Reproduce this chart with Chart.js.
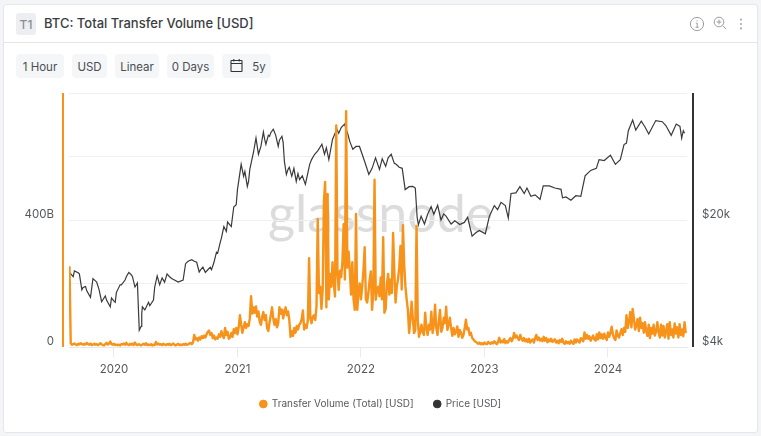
<!DOCTYPE html>
<html><head><meta charset="utf-8">
<script src="https://cdn.jsdelivr.net/npm/chart.js@4"></script>
<style>
html,body{margin:0;padding:0;width:761px;height:436px;overflow:hidden;background:#f4f5f7;font-family:Inter,"Open Sans",sans-serif}
#card{position:absolute;left:3px;top:4px;width:753px;height:427px;background:#fff;border:1px solid #e6e7ea;border-radius:3px}
#hdr{position:absolute;left:3px;top:42px;width:755px;height:1px;background:#e4e5e8}
#t1{position:absolute;left:16px;top:13px;width:20px;height:22px;background:#edeef1;border-radius:3px;color:#8a8f96;font-size:12px;font-weight:500;line-height:23px;text-align:center}
#title{position:absolute;left:44px;top:13px;font-size:13px;font-weight:500;color:#3a3d42;line-height:20px;white-space:nowrap}
.btn{position:absolute;top:54px;height:24px;background:#f5f6f8;border-radius:4px;font-size:11.5px;color:#4a4d52;line-height:26px;text-align:center}
#wm{position:absolute;left:268px;top:182px;font-family:Lato,sans-serif;font-size:52px;font-weight:400;color:#dcdcdc;line-height:60px;white-space:nowrap}
canvas{position:absolute;left:0;top:0}
svg{position:absolute}
</style></head>
<body>
<div id="card"></div><div id="hdr"></div>
<div id="t1">T1</div><div id="title">BTC: Total Transfer Volume [USD]</div>
<div class="btn" style="left:16px;width:48px">1 Hour</div>
<div class="btn" style="left:72px;width:35px">USD</div>
<div class="btn" style="left:115px;width:44px">Linear</div>
<div class="btn" style="left:167px;width:47px">0 Days</div>
<div class="btn" style="left:222px;width:49px;text-indent:19px"><span style="position:relative;left:3px">5y</span></div>
<svg style="left:229px;top:58px" width="16" height="16" viewBox="0 0 16 16" fill="none" stroke="#2f3237" stroke-width="1.1"><rect x="2" y="2.5" width="11" height="11" rx="0.5"/><path d="M2 5.5H13M4.8 1V3.6M10.2 1V3.6"/></svg>
<svg style="left:689px;top:16px" width="16" height="16" viewBox="0 0 16 16" fill="none" stroke="#9a9da2" stroke-width="1"><circle cx="8" cy="8" r="6.6"/><path d="M8 4.3V5.3M6.8 7.2H8.2V11.3M6.6 11.3H9.6"/></svg>
<svg style="left:713px;top:15px" width="15" height="16" viewBox="0 0 15 16" fill="none" stroke="#9a9da2" stroke-width="1"><circle cx="6" cy="7" r="4.8"/><path d="M6 4.6V9.4M3.6 7H8.4M9.6 10.8L13.2 14"/></svg>
<svg style="left:739px;top:18px" width="4" height="12" viewBox="0 0 4 12" fill="#a8abaf"><circle cx="2" cy="1.6" r="1.1"/><circle cx="2" cy="6" r="1.1"/><circle cx="2" cy="10.4" r="1.1"/></svg>
<div id="wm">glassnode</div>
<canvas id="c" width="761" height="436"></canvas>
<script>
const seriesNames = ['Transfer Volume (Total) [USD]', 'Price [USD]'];
const volumeTicks = [0, 400];
const priceTicks = [4000, 20000];
const yearTicks = [20, 21, 22, 23, 24];

// years since 2000
const volumeYears = [
19.64,19.65,19.66,19.67,19.68,19.69,19.70,19.71,19.72,19.73,
19.74,19.75,19.76,19.77,19.78,19.79,19.80,19.81,19.82,19.83,
19.84,19.85,19.86,19.87,19.88,19.89,19.90,19.91,19.92,19.93,
19.94,19.95,19.96,19.97,19.98,19.99,20.00,20.01,20.02,20.03,
20.04,20.05,20.06,20.07,20.08,20.09,20.10,20.11,20.12,20.13,
20.14,20.15,20.16,20.17,20.18,20.19,20.20,20.21,20.22,20.23,
20.24,20.25,20.26,20.27,20.28,20.29,20.30,20.31,20.32,20.33,
20.34,20.35,20.36,20.37,20.38,20.39,20.40,20.41,20.42,20.43,
20.44,20.45,20.46,20.47,20.48,20.49,20.50,20.51,20.52,20.53,
20.54,20.55,20.56,20.57,20.58,20.59,20.60,20.61,20.62,20.63,
20.64,20.65,20.66,20.67,20.68,20.69,20.70,20.71,20.72,20.73,
20.74,20.75,20.76,20.77,20.78,20.79,20.80,20.81,20.82,20.83,
20.84,20.85,20.86,20.87,20.88,20.89,20.90,20.91,20.92,20.93,
20.94,20.95,20.96,20.97,20.98,20.99,21.00,21.01,21.02,21.03,
21.04,21.05,21.06,21.07,21.08,21.09,21.10,21.11,21.12,21.13,
21.14,21.15,21.16,21.17,21.18,21.19,21.20,21.21,21.22,21.23,
21.24,21.25,21.26,21.27,21.28,21.29,21.30,21.31,21.32,21.33,
21.34,21.35,21.36,21.37,21.38,21.39,21.40,21.41,21.42,21.43,
21.44,21.45,21.46,21.47,21.48,21.49,21.50,21.51,21.52,21.53,
21.54,21.55,21.56,21.57,21.58,21.59,21.60,21.61,21.62,21.63,
21.64,21.65,21.66,21.67,21.68,21.69,21.70,21.71,21.72,21.73,
21.74,21.75,21.76,21.77,21.78,21.79,21.80,21.81,21.82,21.83,
21.84,21.85,21.86,21.87,21.88,21.89,21.90,21.91,21.92,21.93,
21.94,21.95,21.96,21.97,21.98,21.99,22.00,22.01,22.02,22.03,
22.04,22.05,22.06,22.07,22.08,22.09,22.10,22.11,22.12,22.13,
22.14,22.15,22.16,22.17,22.18,22.19,22.20,22.21,22.22,22.23,
22.24,22.25,22.26,22.27,22.28,22.29,22.30,22.31,22.32,22.33,
22.34,22.35,22.36,22.37,22.38,22.39,22.40,22.41,22.42,22.43,
22.44,22.45,22.46,22.47,22.48,22.49,22.50,22.51,22.52,22.53,
22.54,22.55,22.56,22.57,22.58,22.59,22.60,22.61,22.62,22.63,
22.64,22.65,22.66,22.67,22.68,22.69,22.70,22.71,22.72,22.73,
22.74,22.75,22.76,22.77,22.78,22.79,22.80,22.81,22.82,22.83,
22.84,22.85,22.86,22.87,22.88,22.89,22.90,22.91,22.92,22.93,
22.94,22.95,22.96,22.97,22.98,22.99,23.00,23.01,23.02,23.03,
23.04,23.05,23.06,23.07,23.08,23.09,23.10,23.11,23.12,23.13,
23.14,23.15,23.16,23.17,23.18,23.19,23.20,23.21,23.22,23.23,
23.24,23.25,23.26,23.27,23.28,23.29,23.30,23.31,23.32,23.33,
23.34,23.35,23.36,23.37,23.38,23.39,23.40,23.41,23.42,23.43,
23.44,23.45,23.46,23.47,23.48,23.49,23.50,23.51,23.52,23.53,
23.54,23.55,23.56,23.57,23.58,23.59,23.60,23.61,23.62,23.63,
23.64,23.65,23.66,23.67,23.68,23.69,23.70,23.71,23.72,23.73,
23.74,23.75,23.76,23.77,23.78,23.79,23.80,23.81,23.82,23.83,
23.84,23.85,23.86,23.87,23.88,23.89,23.90,23.91,23.92,23.93,
23.94,23.95,23.96,23.97,23.98,23.99,24.00,24.01,24.02,24.03,
24.04,24.05,24.06,24.07,24.08,24.09,24.10,24.11,24.12,24.13,
24.14,24.15,24.16,24.17,24.18,24.19,24.20,24.21,24.22,24.23,
24.24,24.25,24.26,24.27,24.28,24.29,24.30,24.31,24.32,24.33,
24.34,24.35,24.36,24.37,24.38,24.39,24.40,24.41,24.42,24.43,
24.44,24.45,24.46,24.47,24.48,24.49,24.50,24.51,24.52,24.53,
24.54,24.55,24.56,24.57,24.58,24.59,24.60,24.61,24.62,24.63];

// billions of USD
const volumeValues = [
254,12,7,9,11,8,6,10,8,12,
9,7,10,8,13,9,7,11,6,8,
10,7,9,6,8,12,9,6,5,9,
13,8,11,17,9,7,10,6,8,6,
7,5,9,8,11,7,13,8,6,10,
7,11,6,14,8,6,9,7,5,8,
10,7,12,6,8,6,9,5,7,6,
16,8,11,7,9,6,10,8,6,9,
7,10,6,8,11,7,5,8,10,6,
8,6,9,7,10,7,8,11,13,9,
14,38,24,28,20,30,24,34,28,36,
30,40,48,52,38,44,28,36,24,30,
26,40,32,50,36,28,60,38,48,26,
30,44,32,56,44,60,40,62,100,70,
45,62,78,60,72,66,90,160,105,125,
108,128,96,112,80,70,95,110,85,100,
60,50,78,100,125,90,70,88,62,75,
125,105,118,90,112,125,100,112,84,32,
50,35,60,45,66,55,70,75,88,115,
55,70,60,85,280,90,75,95,100,85,
127,403,170,190,120,180,457,520,125,482,
150,230,190,267,200,159,698,230,180,240,
220,270,387,213,743,250,300,240,165,267,
150,117,419,117,170,200,150,190,240,314,
150,140,170,210,238,117,170,527,149,180,
190,160,219,150,346,108,120,197,230,165,
213,170,359,240,140,190,213,250,318,181,
384,260,190,150,117,44,86,143,90,44,
54,381,86,32,50,70,45,38,108,60,
38,70,55,111,44,70,133,60,38,79,
117,48,60,92,75,127,54,70,92,60,
35,60,40,48,65,32,54,45,29,38,
60,86,55,60,38,45,29,24,19,16,
13,10,14,9,12,8,14,10,9,16,
12,10,15,11,18,13,9,16,29,14,
20,15,25,12,18,14,22,28,18,26,
44,30,36,28,22,38,26,20,28,18,
24,16,26,14,20,24,14,28,38,22,
30,20,26,18,32,20,28,15,24,18,
26,16,20,24,14,20,12,22,16,26,
14,10,18,12,16,10,20,14,10,24,
14,24,18,14,28,24,18,46,26,38,
26,34,20,28,36,24,20,40,24,46,
28,40,26,42,30,22,46,32,44,64,
40,28,22,52,36,30,44,56,38,60,
48,100,60,80,110,62,120,90,55,68,
88,50,92,60,75,45,78,50,35,70,
28,60,42,70,36,50,78,45,30,70,
36,66,30,48,72,26,78,38,55,30,
74,42,62,30,72,38,55,34,78,44];

const priceYears = [
19.64,19.67,19.68,19.71,19.72,19.74,19.75,19.77,19.78,19.81,
19.83,19.85,19.86,19.88,19.90,19.93,19.94,19.97,19.98,20.00,
20.01,20.02,20.05,20.06,20.09,20.10,20.12,20.14,20.15,20.17,
20.19,20.20,20.205,20.22,20.225,20.23,20.25,20.28,20.29,20.32,
20.33,20.35,20.37,20.39,20.41,20.43,20.45,20.47,20.49,20.52,
20.56,20.58,20.60,20.63,20.65,20.67,20.69,20.70,20.72,20.74,
20.76,20.78,20.79,20.81,20.83,20.84,20.86,20.87,20.89,20.91,
20.92,20.95,20.97,20.99,21.00,21.03,21.05,21.06,21.08,21.09,
21.10,21.13,21.15,21.17,21.19,21.21,21.22,21.23,21.25,21.26,
21.27,21.29,21.31,21.33,21.34,21.36,21.37,21.38,21.396,21.41,
21.42,21.44,21.457,21.476,21.49,21.503,21.525,21.55,21.585,21.60,
21.625,21.65,21.684,21.705,21.72,21.74,21.77,21.805,21.82,21.84,
21.867,21.894,21.91,21.934,21.96,21.988,22.03,22.064,22.09,22.118,
22.15,22.172,22.2,22.22,22.245,22.27,22.285,22.31,22.334,22.358,
22.39,22.42,22.44,22.455,22.465,22.487,22.514,22.54,22.568,22.59,
22.621,22.648,22.67,22.689,22.73,22.76,22.80,22.837,22.864,22.90,
22.93,22.958,23.007,23.04,23.08,23.106,23.134,23.169,23.193,23.215,
23.255,23.287,23.322,23.344,23.376,23.41,23.45,23.476,23.525,23.57,
23.62,23.632,23.66,23.70,23.74,23.78,23.815,23.86,23.906,23.928,
23.97,24.02,24.06,24.10,24.13,24.15,24.165,24.20,24.225,24.27,
24.30,24.33,24.387,24.44,24.47,24.512,24.553,24.583,24.597,24.61,24.62];

// USD
const priceValues = [
10300,9750,10500,10250,10100,8250,8500,8600,8150,7500,
9500,9250,9100,8250,7100,7650,7250,6650,7450,7150,
7050,8000,8800,8800,9350,9750,10300,10000,9750,8550,
9000,6000,4950,5200,6100,6650,6400,7050,6750,7250,
8550,9850,8800,9600,9100,10100,9750,9500,9350,9100,
9350,11500,11850,12100,11850,11700,10350,10600,11000,10300,
10650,11000,10650,11700,13300,13150,15000,15900,18400,17300,
19500,18400,23600,24300,29400,40500,34800,37000,30600,32600,
38000,47200,56500,46000,50800,61000,55700,52200,58500,57800,
60500,63200,58500,50800,55000,57800,53500,42000,35600,38000,
39000,34800,38500,32600,36000,33400,35000,31400,40500,43000,
46000,48000,52200,46000,50000,43000,55700,63200,60000,64500,
67400,59300,54000,49000,50800,50800,42000,35600,38500,44000,
38000,43500,39500,44000,46000,41000,40500,39000,38500,29400,
30500,30600,30000,20700,18800,21000,19000,21500,23700,21500,
24100,20000,21600,21000,19000,19800,18900,19400,20700,16300,
17000,17500,16800,21000,24000,22800,25000,24000,20500,28000,
28200,30500,28000,30000,27000,27500,26000,30800,30800,30000,
29500,26500,26800,25700,27200,27000,35000,37500,38500,43000,
42500,45500,40500,43000,52000,53000,62000,71000,62500,70000,
65000,59500,70500,69500,66000,58500,67500,65500,56500,62000,60000];

const railPlugin = {
  id: 'rails',
  afterDraw(chart) {
    const { ctx, chartArea: a } = chart;
    ctx.save();
    ctx.lineWidth = 2;
    ctx.strokeStyle = '#f7931a';
    ctx.beginPath(); ctx.moveTo(63, a.top); ctx.lineTo(63, a.bottom); ctx.stroke();
    ctx.strokeStyle = '#333333';
    ctx.beginPath(); ctx.moveTo(693, a.top); ctx.lineTo(693, a.bottom); ctx.stroke();
    ctx.restore();
  }
};

new Chart(document.getElementById('c'), {
  type: 'line',
  plugins: [railPlugin],
  data: {
    datasets: [
      { label: seriesNames[0], yAxisID: 'yV', borderColor: '#f7931a', backgroundColor: '#f7931a', borderWidth: 2.4, borderJoinStyle: 'round', pointRadius: 0, tension: 0,
        data: volumeYears.map((x, i) => ({ x, y: volumeValues[i] })) },
      { label: seriesNames[1], yAxisID: 'yP', borderColor: '#3a3a3a', backgroundColor: '#333333', borderWidth: 1.2, pointRadius: 0, tension: 0,
        data: priceYears.map((x, i) => ({ x, y: priceValues[i] })) }
    ]
  },
  options: {
    responsive: false, animation: false,
    layout: { padding: { left: 0, right: 0, top: 93, bottom: 17 } },
    plugins: {
      tooltip: { enabled: false },
      legend: { position: 'bottom', align: 'center',
        labels: { usePointStyle: true, pointStyle: 'circle', boxWidth: 7, boxHeight: 5.5, padding: 20, color: '#55585d', font: { family: 'Inter', size: 10 },
          generateLabels: chart => Chart.defaults.plugins.legend.labels.generateLabels(chart).map(item => ({ ...item, lineWidth: 1 })) } }
    },
    scales: {
      x: { type: 'linear', min: 19.636, max: 24.64,
        afterBuildTicks: s => { s.ticks = yearTicks.map(value => ({ value })); },
        ticks: { color: '#55585d', font: { family: 'Inter', size: 11.5 }, padding: 6, maxRotation: 0, callback: v => String(2000 + v) },
        grid: { drawOnChartArea: false, drawTicks: true, tickLength: 10, color: '#e9eaec' },
        border: { color: '#e6e7e9', width: 1 },
        afterFit: s => { s.height = 32; } },
      yV: { type: 'linear', position: 'left', min: 0, max: 800,
        ticks: { stepSize: 200, color: '#55585d', font: { family: 'Inter', size: 11.5 }, padding: 15, labelOffset: -5,
          callback: v => volumeTicks.includes(v) ? (v === 0 ? '0' : v + 'B') : '' },
        grid: { color: '#eeeff1', drawTicks: false },
        border: { display: false },
        afterFit: s => { s.width = 69; } },
      yP: { type: 'logarithmic', position: 'right', min: 4000, max: 100000,
        afterBuildTicks: s => { s.ticks = priceTicks.map(value => ({ value })); },
        ticks: { color: '#55585d', font: { family: 'Inter', size: 11.5 }, padding: 15, labelOffset: -5, autoSkip: false,
          callback: v => '$' + (v / 1000) + 'k' },
        grid: { display: false, drawTicks: false },
        border: { display: false },
        afterFit: s => { s.width = 74; } }
    }
  }
});
</script>
</body></html>
